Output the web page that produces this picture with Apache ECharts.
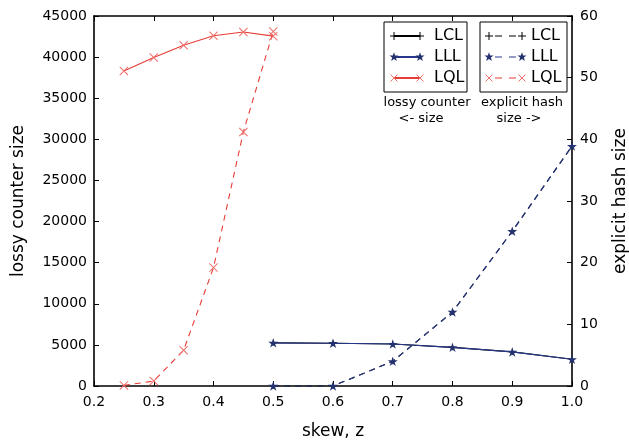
<!DOCTYPE html>
<html>
<head>
<meta charset="utf-8">
<script src="https://cdn.jsdelivr.net/npm/echarts@6/dist/echarts.min.js"></script>
<style>html,body{margin:0;padding:0;background:#fff}#c{width:629px;height:442px}</style>
</head>
<body>
<div id="c"></div>
<script>
// ---- data ----
const skewLQL = [0.25, 0.30, 0.35, 0.40, 0.45, 0.50];
const lossyLQL = [38300, 39950, 41450, 42600, 43050, 42550];
const hashLQL = [0.1, 0.8, 5.8, 19.2, 41.2, 57.5];

const skewLxL = [0.5, 0.6, 0.7, 0.8, 0.9, 1.0];
const lossyLCL = [5250, 5200, 5100, 4700, 4150, 3250];
const hashLCL = [0, 0, 4.0, 12.0, 25.1, 38.9];
const lossyLLL = [5250, 5200, 5100, 4700, 4150, 3250];
const hashLLL = [0, 0, 4.0, 12.0, 25.1, 38.9];

const xTicks = [0.2, 0.3, 0.4, 0.5, 0.6, 0.7, 0.8, 0.9, 1.0];
const leftTicks = [0, 5000, 10000, 15000, 20000, 25000, 30000, 35000, 40000, 45000];
const rightTicks = [0, 10, 20, 30, 40, 50, 60];

const pair = (xs, ys) => xs.map((x, i) => [x, ys[i]]);

const RED = '#e63c36', RED_M = '#ef6f6a';
const BLUE = '#27388a', BLUE_M = '#24336f';
const BLACK = '#000000';
const FONT = 'DejaVu Sans';

const SYM_X = 'path://M0,0.8L0.8,0L10,9.2L9.2,10Z M9.2,0L10,0.8L0.8,10L0,9.2Z';
const SYM_PLUS = 'path://M4.4,0L5.6,0L5.6,4.4L10,4.4L10,5.6L5.6,5.6L5.6,10L4.4,10L4.4,5.6L0,5.6L0,4.4L4.4,4.4Z';
const SYM_STAR = 'path://M50,0L61.2,34.5L97.6,34.5L68.2,55.9L79.4,90.5L50,69.1L20.6,90.5L31.8,55.9L2.4,34.5L38.8,34.5Z';

function mkSeries(name, xs, ys, yIdx, color, mColor, sym, size, dashed, z) {
  return {
    name: name, type: 'line', xAxisIndex: 0, yAxisIndex: yIdx,
    data: pair(xs, ys), symbol: sym, symbolSize: size, symbolKeepAspect: true,
    showSymbol: true, z: z,
    lineStyle: { color: color, width: 1.1, type: dashed ? [6, 5] : 'solid' },
    itemStyle: { color: mColor },
    emphasis: { disabled: true }
  };
}

// ---- legend graphics ----
function markerGraphics(kind, cx, cy, color) {
  const z = 102;
  if (kind === 'plus') {
    return [
      { type: 'line', z: z, shape: { x1: cx - 4, y1: cy, x2: cx + 4, y2: cy }, style: { stroke: color, lineWidth: 1 } },
      { type: 'line', z: z, shape: { x1: cx, y1: cy - 4, x2: cx, y2: cy + 4 }, style: { stroke: color, lineWidth: 1 } }
    ];
  }
  if (kind === 'x') {
    return [
      { type: 'line', z: z, shape: { x1: cx - 3.5, y1: cy - 3.5, x2: cx + 3.5, y2: cy + 3.5 }, style: { stroke: color, lineWidth: 1 } },
      { type: 'line', z: z, shape: { x1: cx - 3.5, y1: cy + 3.5, x2: cx + 3.5, y2: cy - 3.5 }, style: { stroke: color, lineWidth: 1 } }
    ];
  }
  const pts = [];
  for (let i = 0; i < 10; i++) {
    const r = i % 2 === 0 ? 4.8 : 2.0;
    const a = -Math.PI / 2 + i * Math.PI / 5;
    pts.push([cx + r * Math.cos(a), cy + r * Math.sin(a)]);
  }
  return [{ type: 'polygon', z: z, shape: { points: pts }, style: { fill: color } }];
}

const legendRows = [
  { name: 'LCL', color: BLACK, mColor: BLACK, kind: 'plus' },
  { name: 'LLL', color: BLUE, mColor: BLUE_M, kind: 'star' },
  { name: 'LQL', color: RED, mColor: RED_M, kind: 'x' }
];
const rowY = [36, 57, 78];
const graphics = [];
function legendBox(x0, x1, lx0, lx1, tx, dashed) {
  graphics.push({ type: 'rect', shape: { x: x0, y: 22, width: x1 - x0, height: 70 },
    style: { fill: '#fff', stroke: '#000', lineWidth: 1 }, z: 100 });
  legendRows.forEach((r, i) => {
    const y = rowY[i];
    if (dashed) {
      graphics.push({ type: 'line', shape: { x1: lx0 + 6, y1: y, x2: lx0 + 13, y2: y },
        style: { stroke: r.color, lineWidth: 1 }, z: 101 });
      graphics.push({ type: 'line', shape: { x1: lx1 - 13, y1: y, x2: lx1 - 6, y2: y },
        style: { stroke: r.color, lineWidth: 1 }, z: 101 });
    } else {
      graphics.push({ type: 'line', shape: { x1: lx0, y1: y, x2: lx1, y2: y },
        style: { stroke: r.color, lineWidth: 2 }, z: 101 });
    }
    markerGraphics(r.kind, lx0, y, r.mColor).forEach(g => graphics.push(g));
    markerGraphics(r.kind, lx1, y, r.mColor).forEach(g => graphics.push(g));
    graphics.push({ type: 'text', x: tx, y: y, z: 102,
      style: { text: r.name, font: '16px ' + FONT, fill: '#000', textVerticalAlign: 'middle', textAlign: 'left' } });
  });
}
legendBox(384, 467, 394, 420, 434, false);
legendBox(480, 567, 489, 522, 531, true);
const captions = [
  ['lossy counter', 427, 103], ['<- size', 421, 119],
  ['explicit hash', 522, 103], ['size ->', 519, 119]
];
captions.forEach(c => graphics.push({ type: 'text', x: c[1], y: c[2], z: 102,
  style: { text: c[0], font: '13px ' + FONT, fill: '#000', textAlign: 'center', textVerticalAlign: 'middle' } }));

const axisFont = { fontFamily: FONT, fontSize: 14, color: '#000' };
const tickStyle = { show: true, inside: true, length: 5, lineStyle: { color: '#000', width: 1 } };
const lineStyle = { show: true, onZero: false, lineStyle: { color: '#000', width: 1.6 } };

const chart = echarts.init(document.getElementById('c'), null, { renderer: 'canvas' });
chart.setOption({
  animation: false,
  backgroundColor: '#fff',
  grid: { left: 94, right: 57, top: 16, bottom: 56, containLabel: false, outerBoundsMode: 'none' },
  xAxis: [
    { type: 'value', min: xTicks[0], max: xTicks[xTicks.length - 1], interval: 0.1, position: 'bottom',
      name: 'skew, z', nameLocation: 'middle', nameGap: 37,
      nameTextStyle: { fontFamily: FONT, fontSize: 17, color: '#000' },
      axisLine: lineStyle, axisTick: tickStyle,
      axisLabel: Object.assign({ margin: 9, formatter: v => v.toFixed(1) }, axisFont),
      splitLine: { show: false } },
    { type: 'value', min: xTicks[0], max: xTicks[xTicks.length - 1], interval: 0.1, position: 'top',
      axisLine: lineStyle, axisTick: tickStyle, axisLabel: { show: false }, splitLine: { show: false } }
  ],
  yAxis: [
    { type: 'value', min: leftTicks[0], max: leftTicks[leftTicks.length - 1], interval: 5000, position: 'left',
      name: 'lossy counter size', nameLocation: 'middle', nameGap: 67, nameRotate: 90,
      nameTextStyle: { fontFamily: FONT, fontSize: 17, color: '#000' },
      axisLine: lineStyle, axisTick: tickStyle,
      axisLabel: Object.assign({ margin: 7, formatter: v => String(v) }, axisFont), splitLine: { show: false } },
    { type: 'value', min: rightTicks[0], max: rightTicks[rightTicks.length - 1], interval: 10, position: 'right',
      name: 'explicit hash size', nameLocation: 'middle', nameGap: 40, nameRotate: 90,
      nameTextStyle: { fontFamily: FONT, fontSize: 17, color: '#000' },
      axisLine: lineStyle, axisTick: tickStyle,
      axisLabel: Object.assign({ margin: 8, formatter: v => String(v) }, axisFont), splitLine: { show: false } }
  ],
  series: [
    mkSeries('LCL lossy', skewLxL, lossyLCL, 0, BLACK, BLACK, SYM_PLUS, 6, false, 2),
    mkSeries('LLL lossy', skewLxL, lossyLLL, 0, BLUE, BLUE_M, SYM_STAR, 10, false, 3),
    mkSeries('LQL lossy', skewLQL, lossyLQL, 0, RED, RED_M, SYM_X, 9, false, 4),
    mkSeries('LCL hash', skewLxL, hashLCL, 1, BLACK, BLACK, SYM_PLUS, 6, true, 2),
    mkSeries('LLL hash', skewLxL, hashLLL, 1, BLUE, BLUE_M, SYM_STAR, 10, true, 3),
    mkSeries('LQL hash', skewLQL, hashLQL, 1, RED, RED_M, SYM_X, 9, true, 4)
  ],
  graphic: graphics
});
</script>
</body>
</html>
